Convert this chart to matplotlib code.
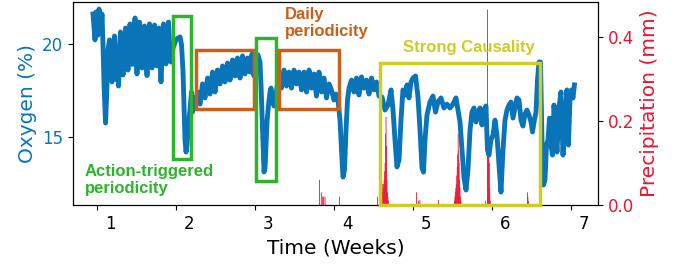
import numpy as np
import matplotlib.pyplot as plt
from matplotlib.patches import Rectangle

# oxygen readings (weeks, %)
time_wk = [0.949, 0.975, 0.987, 1.013, 1.025, 1.051, 1.063, 1.076, 1.089, 1.108,
           1.127, 1.139, 1.158, 1.175, 1.190, 1.205, 1.222, 1.240, 1.253, 1.262,
           1.272, 1.297, 1.312, 1.329, 1.345, 1.361, 1.376, 1.392, 1.418, 1.432,
           1.449, 1.465, 1.481, 1.494, 1.506, 1.522, 1.538, 1.555, 1.570, 1.585,
           1.601, 1.617, 1.633, 1.650, 1.665, 1.680, 1.696, 1.712, 1.728, 1.744,
           1.759, 1.772, 1.785, 1.797, 1.810, 1.826, 1.842, 1.858, 1.873, 1.889,
           1.905, 1.921, 1.937, 1.962,
           1.999, 2.025, 2.051, 2.070, 2.089, 2.101, 2.114, 2.127, 2.139, 2.158,
           2.177, 2.196, 2.209, 2.228,
           2.241, 2.272, 2.304, 2.335, 2.367, 2.399, 2.430, 2.462, 2.494, 2.525,
           2.557, 2.589, 2.620, 2.652, 2.684, 2.715, 2.747, 2.778, 2.810, 2.842,
           2.873, 2.905, 2.937, 2.962, 2.987, 3.013,
           3.038, 3.063, 3.076, 3.089, 3.101, 3.114, 3.127, 3.139, 3.152, 3.171,
           3.190, 3.203, 3.222, 3.241, 3.259, 3.278,
           3.304, 3.335, 3.367, 3.399, 3.430, 3.462, 3.494, 3.525, 3.557, 3.589,
           3.620, 3.652, 3.684, 3.715, 3.747, 3.778, 3.810, 3.842, 3.873, 3.905,
           3.937, 3.968, 4.000, 4.025, 4.051, 4.076, 4.095, 4.114, 4.133, 4.152,
           4.171, 4.190,
           4.222, 4.253, 4.285, 4.316, 4.348, 4.380, 4.411, 4.443, 4.475, 4.506,
           4.538, 4.570,
           4.608, 4.646, 4.684, 4.722, 4.747, 4.772, 4.797, 4.823, 4.848, 4.873,
           4.899, 4.924, 4.949, 4.975, 5.000, 5.032, 5.063, 5.089, 5.114, 5.133,
           5.152, 5.177, 5.215, 5.253, 5.285, 5.316, 5.354, 5.392, 5.430, 5.468,
           5.506, 5.544, 5.570, 5.595, 5.620, 5.646, 5.671, 5.696, 5.722, 5.747,
           5.772, 5.797, 5.823, 5.848, 5.873, 5.899, 5.924, 5.943, 5.962, 5.987,
           6.013, 6.038, 6.063, 6.089, 6.114, 6.139, 6.165, 6.190, 6.215, 6.241,
           6.266, 6.291, 6.316, 6.342, 6.367, 6.392, 6.418, 6.443, 6.468, 6.494,
           6.513, 6.532, 6.557, 6.576, 6.595, 6.614, 6.633, 6.652, 6.671, 6.690,
           6.709, 6.728, 6.747, 6.766, 6.785, 6.804, 6.823, 6.848, 6.873, 6.899,
           6.924, 6.949, 6.968, 6.987, 7.006, 7.025, 7.044]
oxygen = [21.61, 20.22, 21.72, 20.48, 21.88, 20.75, 21.61, 19.95, 17.80, 15.75,
          17.80, 19.68, 20.22, 19.30, 17.96, 19.60, 20.43, 19.20, 18.06, 19.00,
          17.74, 20.65, 19.80, 18.33, 19.40, 20.86, 19.90, 18.60, 21.08, 19.60,
          18.90, 20.20, 21.40, 19.50, 18.39, 20.00, 21.18, 19.90, 18.71, 19.80,
          20.97, 19.40, 18.30, 19.90, 21.08, 19.80, 18.71, 20.10, 21.02, 19.50,
          18.82, 19.90, 20.86, 19.20, 17.96, 19.70, 21.08, 19.60, 18.93, 20.20,
          21.18, 19.80, 19.03, 19.78,
          20.22, 20.32, 20.38, 19.95, 18.49, 16.72, 14.84, 14.19, 14.57, 15.65,
          16.45, 17.42, 16.34, 17.10,
          16.56, 17.42, 16.77, 17.85, 17.10, 18.17, 17.31, 18.49, 17.42, 18.60,
          17.85, 18.82, 17.96, 18.98, 18.06, 19.14, 18.28, 19.25, 18.17, 19.36,
          18.39, 19.25, 18.49, 19.46, 18.28, 19.14,
          19.41, 19.03, 17.80, 16.18, 14.57, 13.12, 13.33, 14.57, 15.81, 16.72,
          17.42, 17.63, 16.99, 16.67, 17.20, 17.63,
          18.39, 17.63, 18.60, 17.74, 18.49, 17.63, 18.60, 17.85, 18.49, 17.53,
          18.49, 17.42, 18.60, 17.63, 18.39, 17.20, 18.49, 17.42, 18.17, 17.10,
          17.85, 17.53, 16.99, 17.31, 16.99, 15.91, 14.30, 12.85, 13.23, 15.38,
          16.99, 17.63,
          18.06, 17.42, 18.17, 17.26, 18.23, 17.63, 18.06, 17.31, 18.17, 17.53,
          17.96, 17.20,
          17.15, 16.45, 16.72, 17.53, 16.45, 14.84, 13.39, 13.76, 15.91, 17.53,
          17.26, 17.80, 17.10, 17.96, 18.17, 18.28, 17.15, 15.38, 13.33, 13.11,
          14.84, 16.18, 16.88, 17.20, 16.34, 16.88, 17.10, 16.56, 16.77, 16.56,
          16.77, 17.10, 16.45, 15.81, 14.30, 12.80, 12.15, 13.23, 15.38, 16.34,
          16.56, 15.81, 16.34, 16.56, 15.65, 16.45, 16.67, 14.30, 14.03, 14.84,
          15.11, 15.91, 15.11, 13.49, 12.04, 14.30, 15.91, 16.45, 16.72, 16.88,
          16.02, 16.56, 17.10, 16.99, 15.91, 15.59, 16.24, 16.45, 16.18, 15.81,
          15.27, 15.81, 16.34, 18.06, 19.03, 19.03, 14.84, 12.42, 12.69, 14.57,
          14.84, 16.02, 14.57, 14.03, 16.72, 15.38, 14.19, 16.56, 17.42, 14.03,
          16.02, 17.53, 14.57, 16.99, 17.53, 17.10, 17.80]

# hourly precipitation, grouped by rain event (start week, mm per hour)
rain_start = [3.810, 4.063, 4.544, 4.582, 5.038, 5.063, 5.082, 5.316,
              5.519, 5.911, 5.937, 6.443]
rain_mm = [[0.06, 0.0, 0.0, 0.0, 0.03, 0.0, 0.0, 0.02, 0.0, 0.02, 0.0, 0.0, 0.02],
           [0.02],
           [0.02],
           [0.02, 0.03, 0.03, 0.04, 0.03, 0.05, 0.04, 0.05, 0.06, 0.08, 0.10,
            0.17, 0.21, 0.14, 0.06, 0.03, 0.02, 0.01],
           [0.03],
           [0.01],
           [0.012],
           [0.012],
           [0.01, 0.02, 0.03, 0.04, 0.05, 0.07, 0.09, 0.12, 0.17, 0.13, 0.10,
            0.06, 0.04, 0.02, 0.01],
           [0.01],
           [0.465, 0.12, 0.13, 0.13, 0.10, 0.04, 0.01],
           [0.03, 0.02, 0.01]]

hour = 1 / 168
rain_t, rain_v = [], []
for t0, vals in zip(rain_start, rain_mm):
    for k, v in enumerate(vals):
        rain_t.append(t0 + k * hour)
        rain_v.append(v)

blue = '#0a74b8'
red = '#ec1530'
green = '#2cb52c'
orange = '#cc5e18'
yellow = '#cdcd22'

fig = plt.figure(figsize=(6.88, 2.65), dpi=100)
ax = fig.add_axes([73 / 688, 1 - 205 / 265, 525 / 688, 203 / 265])
ax2 = ax.twinx()

bars = ax2.bar(rain_t, rain_v, width=1.8 * hour, color=red, linewidth=0,
               align='edge')
for b in bars:
    b.set_snap(False)
ax2.set_ylim(0, 0.483)
ax2.set_yticks([0.0, 0.2, 0.4])
ax2.tick_params(axis='y', labelsize=12, labelcolor=red)
ax2.set_ylabel('Precipitation (mm)', color=red, fontsize=14.5)

ax.set_zorder(ax2.get_zorder() + 1)
ax.patch.set_visible(False)
ax.plot(time_wk, oxygen, color=blue, lw=3.5)
ax.set_xlim(0.696, 7.342)
ax.set_ylim(11.345, 22.258)
ax.set_yticks([15, 20])
ax.tick_params(axis='y', labelsize=12, labelcolor=blue)
ax.set_ylabel('Oxygen (%)', color=blue, fontsize=14.5)

# tick marks at whole weeks, labels drawn slightly to the right
ax.set_xticks(range(1, 8))
ax.set_xticklabels([])
ax.set_xticks(np.arange(1, 8) + 0.165, minor=True)
ax.set_xticklabels([str(i) for i in range(1, 8)], minor=True)
ax.tick_params(axis='x', which='minor', length=0, pad=7, labelsize=12)
ax.set_xlabel('Time (Weeks)', fontsize=14.5)

boxes = [(1.968, 2.196, 13.84, 21.51, green),
         (2.257, 2.987, 16.52, 19.70, orange),
         (3.015, 3.268, 12.62, 20.33, green),
         (3.300, 4.059, 16.52, 19.70, orange),
         (4.578, 6.612, 11.35, 18.99, yellow)]
for x0, x1, y0, y1, c in boxes:
    ax.add_patch(Rectangle((x0, y0), x1 - x0, y1 - y0, fill=False, ec=c,
                           lw=2.5, zorder=4, clip_on=False))

font = dict(family='Liberation Sans', weight='bold', fontsize=12)
ax.text(3.38, 21.99, 'Daily\nperiodicity', color=orange, ha='left', va='top', **font)
ax.text(0.848, 13.55, 'Action-triggered\nperiodicity', color=green, ha='left',
        va='top', **font)
ax.text(4.873, 19.57, 'Strong Causality', color=yellow, ha='left',
        va='baseline', **font)

fig.savefig('out.png', dpi=100)
